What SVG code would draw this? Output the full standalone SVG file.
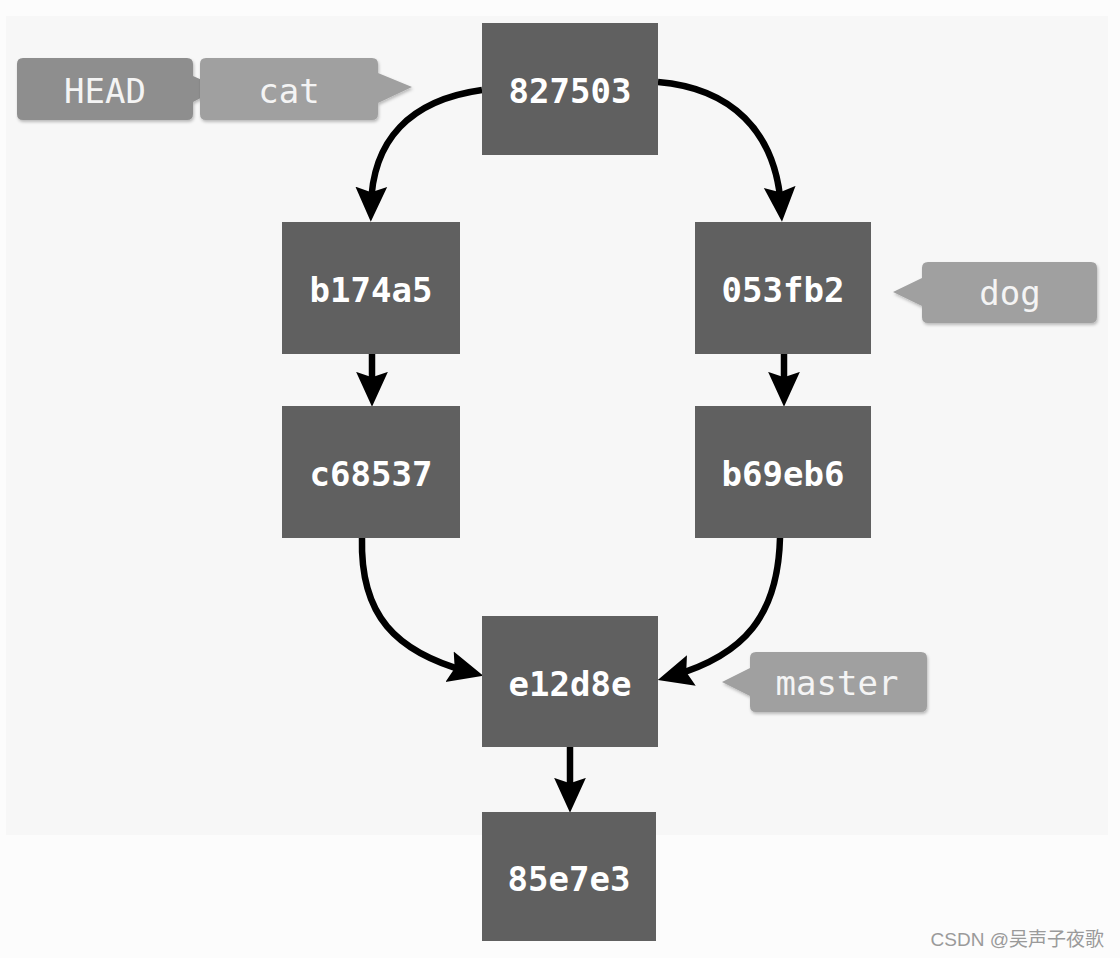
<svg xmlns="http://www.w3.org/2000/svg" width="1120" height="958" viewBox="0 0 1120 958">
<style>
.node rect{fill:#606060}
.node text{font-family:"DejaVu Sans Mono","Liberation Mono",monospace;font-weight:bold;font-size:34px;fill:#ffffff;text-anchor:middle}
.lbl text{font-family:"DejaVu Sans Mono","Liberation Mono",monospace;font-size:34px;fill:#f4f4f4;text-anchor:middle}
.lbl path{filter:url(#sh)}
.edge{fill:none;stroke:#000;stroke-width:6.5;marker-end:url(#ah)}
</style>
<defs>
<marker id="ah" markerUnits="userSpaceOnUse" markerWidth="36" markerHeight="36" viewBox="0 0 34 34" refX="19" refY="17" orient="auto">
<path d="M0,2 L33,17 L0,32 L5,17 z" fill="#000"/>
</marker>
<filter id="sh" x="-10%" y="-20%" width="120%" height="150%">
<feDropShadow dx="1" dy="2" stdDeviation="1.5" flood-color="#000" flood-opacity="0.25"/>
</filter>
</defs>
<rect x="0" y="0" width="1120" height="958" fill="#fcfcfc"/>
<rect x="6" y="16" width="1102" height="819" fill="#f7f7f7"/>

<g id="connectors">
<path class="edge" d="M482,90 C410,100 372,140 371,207"/>
<path class="edge" d="M658,82 C730,88 776,130 781,207"/>
<path class="edge" d="M372,354 L372,392"/>
<path class="edge" d="M784,354 L784,392"/>
<path class="edge" d="M362,538 C360,615 395,652 469,672"/>
<path class="edge" d="M780,538 C778,615 745,655 672,676"/>
<path class="edge" d="M570,747 L570,798"/>
</g>

<g id="n827503" class="node"><rect x="482" y="23" width="176" height="132"/><text x="570" y="103">827503</text></g>
<g id="nb174a5" class="node"><rect x="282" y="222" width="178" height="132"/><text x="371" y="302">b174a5</text></g>
<g id="n053fb2" class="node"><rect x="695" y="222" width="176" height="132"/><text x="783" y="302">053fb2</text></g>
<g id="nc68537" class="node"><rect x="282" y="406" width="178" height="132"/><text x="371" y="486">c68537</text></g>
<g id="nb69eb6" class="node"><rect x="695" y="406" width="176" height="132"/><text x="783" y="486">b69eb6</text></g>
<g id="ne12d8e" class="node"><rect x="482" y="616" width="176" height="131"/><text x="570" y="696">e12d8e</text></g>
<g id="n85e7e3" class="node"><rect x="482" y="812" width="174" height="129"/><text x="569" y="891">85e7e3</text></g>

<g id="lHEAD" class="lbl"><path d="M23,58 H187 Q193,58 193,64 V76 L220,88 L193,102 V114 Q193,120 187,120 H23 Q17,120 17,114 V64 Q17,58 23,58 z" fill="#8e8e8e"/><text x="105" y="103">HEAD</text></g>
<g id="lcat" class="lbl"><path d="M206,58 H372 Q378,58 378,64 V73 L412,87 L378,103 V114 Q378,120 372,120 H206 Q200,120 200,114 V64 Q200,58 206,58 z" fill="#a0a0a0"/><text x="289" y="103">cat</text></g>
<g id="ldog" class="lbl"><path d="M928,262 H1091 Q1097,262 1097,268 V317 Q1097,323 1091,323 H928 Q922,323 922,317 V306 L893,292 L922,278 V268 Q922,262 928,262 z" fill="#a0a0a0"/><text x="1010" y="305">dog</text></g>
<g id="lmaster" class="lbl"><path d="M756,652 H921 Q927,652 927,658 V706 Q927,712 921,712 H756 Q750,712 750,706 V696 L722,682 L750,668 V658 Q750,652 756,652 z" fill="#a0a0a0"/><text x="837" y="695">master</text></g>

<text x="1104" y="946" text-anchor="end" font-family="Liberation Sans,Noto Sans CJK SC,sans-serif" font-size="19" fill="#9a9a9a">CSDN @吴声子夜歌</text>
</svg>
